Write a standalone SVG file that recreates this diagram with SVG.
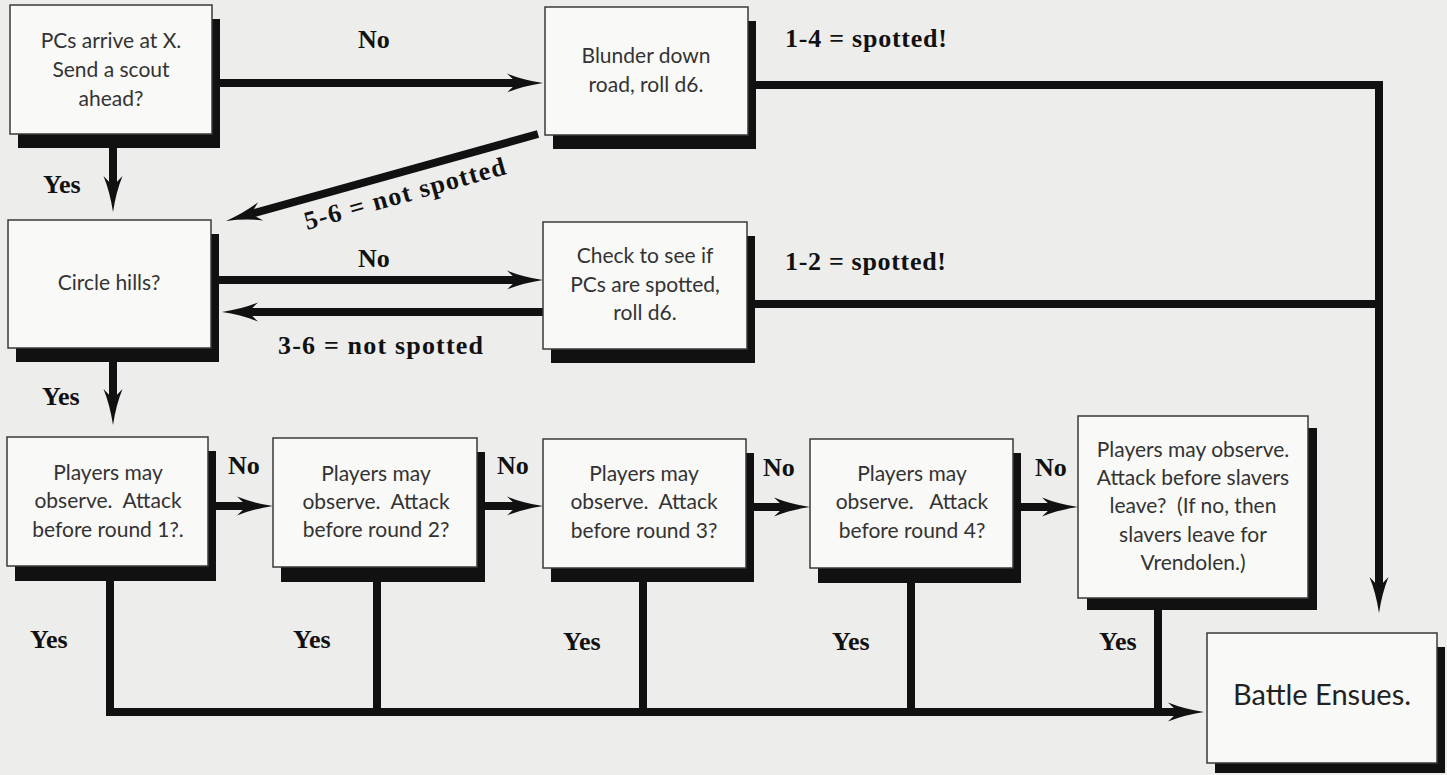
<svg xmlns="http://www.w3.org/2000/svg" width="1447" height="775" viewBox="0 0 1447 775">
<style>
.box{fill:#f9f9f7;stroke:#3a3a3a;stroke-width:1.5}
.sh{fill:#111}
.t{font-family:Lato,"Open Sans","Liberation Sans",sans-serif;font-size:21px;fill:#333;text-anchor:middle;white-space:pre}
.lb{font-family:"Liberation Serif","DejaVu Serif",serif;font-weight:bold;font-size:26px;fill:#111;white-space:pre}
.c{fill:none;stroke:#111;stroke-width:8;stroke-linejoin:miter;stroke-linecap:butt}
.ca{marker-end:url(#ah)}
</style>
<defs>
<marker id="ah" markerUnits="userSpaceOnUse" viewBox="-12 -12 40 24" markerWidth="40" markerHeight="24" refX="0" refY="0" orient="auto">
<path d="M-10,-9.5 Q6,-3 26,0 Q6,3 -10,9.5 L0,0 Z" fill="#111"/>
</marker>
</defs>
<rect width="1447" height="775" fill="#ededeb"/>

<g id="connectors">
<path class="c ca" d="M219,83 H517"/>
<path class="c" d="M755,85 H1379 V300"/>
<path class="c ca" d="M1379,296 V587"/>
<path class="c ca" d="M113,148 V186"/>
<path class="c ca" d="M538,134 L251,214"/>
<path class="c ca" d="M219,280 H517"/>
<path class="c ca" d="M543,312 H248"/>
<path class="c" d="M755,304 H1379"/>
<path class="c ca" d="M113,362 V399"/>
<path class="c ca" d="M216,506 H247"/>
<path class="c ca" d="M485,506 H517"/>
<path class="c ca" d="M753,507 H784"/>
<path class="c ca" d="M1021,507 H1052"/>
<path class="c ca" d="M110,581 V712 H1178"/>
<path class="c" d="M377,582 V712"/>
<path class="c" d="M643,582 V712"/>
<path class="c" d="M911,583 V712"/>
<path class="c" d="M1158,610 V712"/>
</g>

<g id="labels">
<text class="lb" x="358" y="48">No</text>
<text class="lb" x="785" y="47" textLength="162" lengthAdjust="spacing">1-4 = spotted!</text>
<text class="lb" x="43" y="193">Yes</text>
<text class="lb" transform="translate(307,230) rotate(-15.7)" x="0" y="0" textLength="208" lengthAdjust="spacing">5-6 = not spotted</text>
<text class="lb" x="358" y="267">No</text>
<text class="lb" x="785" y="270" textLength="161" lengthAdjust="spacing">1-2 = spotted!</text>
<text class="lb" x="278" y="354" textLength="205" lengthAdjust="spacing">3-6 = not spotted</text>
<text class="lb" x="42" y="405">Yes</text>
<text class="lb" x="228" y="474">No</text>
<text class="lb" x="497" y="474">No</text>
<text class="lb" x="763" y="476">No</text>
<text class="lb" x="1035" y="476">No</text>
<text class="lb" x="30" y="648">Yes</text>
<text class="lb" x="293" y="648">Yes</text>
<text class="lb" x="563" y="650">Yes</text>
<text class="lb" x="832" y="650">Yes</text>
<text class="lb" x="1099" y="650">Yes</text>
</g>

<g id="n-start">
<rect class="sh" x="18" y="19" width="202" height="129"/>
<rect class="box" x="10" y="5" width="202" height="129"/>
<text class="t" x="111" y="48">PCs arrive at X.</text>
<text class="t" x="111" y="77">Send a scout</text>
<text class="t" x="111" y="106">ahead?</text>
</g>

<g id="n-blunder">
<rect class="sh" x="553" y="21" width="203" height="128"/>
<rect class="box" x="545" y="7" width="203" height="128"/>
<text class="t" x="646" y="63">Blunder down</text>
<text class="t" x="646" y="92">road, roll d6.</text>
</g>

<g id="n-circle">
<rect class="sh" x="16" y="234" width="203" height="128"/>
<rect class="box" x="8" y="220" width="203" height="128"/>
<text class="t" x="109" y="290">Circle hills?</text>
</g>

<g id="n-check">
<rect class="sh" x="551" y="236" width="204" height="127"/>
<rect class="box" x="543" y="222" width="204" height="127"/>
<text class="t" x="645" y="263">Check to see if</text>
<text class="t" x="645" y="292">PCs are spotted,</text>
<text class="t" x="645" y="320">roll d6.</text>
</g>

<g id="n-round1">
<rect class="sh" x="15" y="451" width="201" height="130"/>
<rect class="box" x="7" y="437" width="201" height="129"/>
<text class="t" x="108" y="480">Players may</text>
<text class="t" x="108" y="508">observe.  Attack</text>
<text class="t" x="108" y="537">before round 1?.</text>
</g>

<g id="n-round2">
<rect class="sh" x="281" y="452" width="204" height="130"/>
<rect class="box" x="273" y="438" width="204" height="129"/>
<text class="t" x="376" y="481">Players may</text>
<text class="t" x="376" y="509">observe.  Attack</text>
<text class="t" x="376" y="537">before round 2?</text>
</g>

<g id="n-round3">
<rect class="sh" x="551" y="453" width="203" height="129"/>
<rect class="box" x="543" y="439" width="203" height="129"/>
<text class="t" x="644" y="481">Players may</text>
<text class="t" x="644" y="509">observe.  Attack</text>
<text class="t" x="644" y="538">before round 3?</text>
</g>

<g id="n-round4">
<rect class="sh" x="818" y="453" width="203" height="130"/>
<rect class="box" x="810" y="439" width="203" height="129"/>
<text class="t" x="912" y="481">Players may</text>
<text class="t" x="912" y="509">observe.   Attack</text>
<text class="t" x="912" y="538">before round 4?</text>
</g>

<g id="n-slavers">
<rect class="sh" x="1087" y="428" width="230" height="182"/>
<rect class="box" x="1078" y="416" width="230" height="182"/>
<text class="t" x="1193" y="457">Players may observe.</text>
<text class="t" x="1193" y="485">Attack before slavers</text>
<text class="t" x="1193" y="513">leave?  (If no, then</text>
<text class="t" x="1193" y="542">slavers leave for</text>
<text class="t" x="1193" y="570">Vrendolen.)</text>
</g>

<g id="n-battle">
<rect class="sh" x="1215" y="647" width="230" height="126"/>
<rect class="box" x="1207" y="633" width="230" height="130"/>
<text class="t" x="1322" y="705" style="font-size:29px;fill:#222">Battle Ensues.</text>
</g>
</svg>
